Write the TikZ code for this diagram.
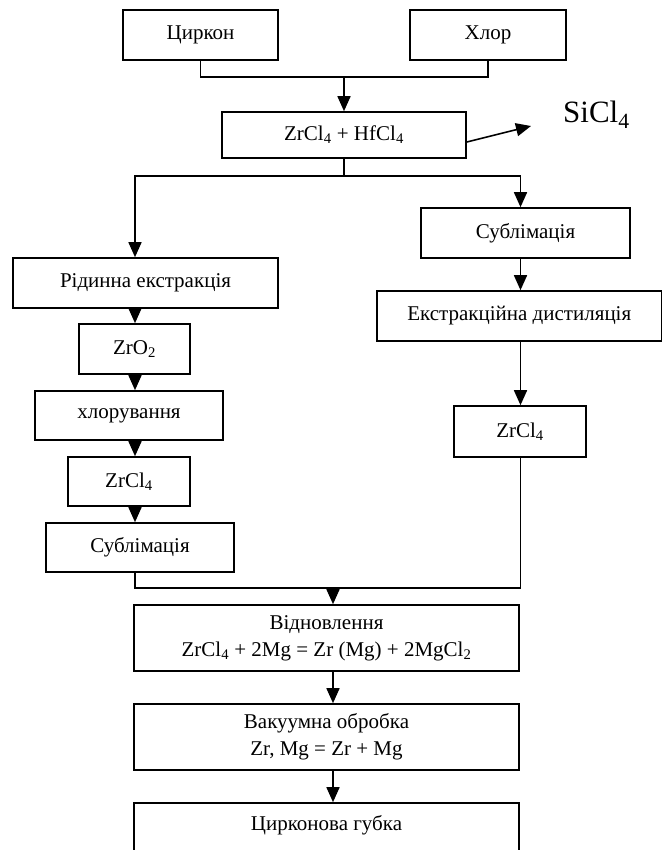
\documentclass[tikz,border=0pt]{standalone}
\usepackage{fontspec}
\setmainfont{Liberation Serif}
\usetikzlibrary{arrows.meta,calc}
\tikzset{
  box/.style={draw,line width=1.6pt,inner sep=0pt,align=center,font=\fontsize{21}{27}\selectfont},
  arr/.style={line width=1.6pt,-{Triangle[length=15pt,width=13pt]}},
  ln/.style={line width=1.6pt}
}
\newcommand{\bx}[6]{% name, x1, y1, x2, y2, text
  \node[box,minimum width={(#4-#2)*1pt},minimum height={(#5-#3)*1pt}] (#1) at ({(#2+#4)/2},{(#3+#5)/2}) {#6};}
\begin{document}
\begin{tikzpicture}[x=1pt,y=-1pt]
\useasboundingbox (0,0) rectangle (663,850);
\clip (0,0) rectangle (663,850);
\bx{tsirkon}{123}{10}{278}{60}{Циркон}
\bx{khlor}{410}{10}{566}{60}{Хлор}
\bx{zrhf}{222}{112}{466}{158}{ZrCl\textsubscript{4} + HfCl\textsubscript{4}}
\bx{sub1}{421}{208}{630}{258}{Сублімація}
\bx{extdist}{377}{291}{661.5}{341}{Екстракційна дистиляція}
\bx{zrclr}{454}{406}{586}{457}{ZrCl\textsubscript{4}}
\bx{ridinna}{13}{258}{278}{308}{Рідинна екстракція}
\bx{zro}{79}{324}{190}{374}{ZrO\textsubscript{2}}
\bx{khlorr}{35}{391}{223}{440}{хлорування}
\bx{zrcll}{68}{457}{190}{506}{ZrCl\textsubscript{4}}
\bx{sub2}{46}{523}{234}{572}{Сублімація}
\bx{vidn}{134}{605}{519}{671}{Відновлення\\ZrCl\textsubscript{4} + 2Mg = Zr (Mg) + 2MgCl\textsubscript{2}}
\bx{vak}{134}{704}{519}{770}{Вакуумна обробка\\Zr, Mg = Zr + Mg}
\bx{gubka}{134}{803}{519}{869}{Цирконова губка\\\mbox{}}
\node[font=\fontsize{31}{36}\selectfont,anchor=base west,inner sep=0pt] (sicl) at (563,123) {SiCl\textsubscript{4}};
\coordinate (lx) at (135,0);
\coordinate (rx) at (520.5,0);
\coordinate (cx) at (333,0);
\coordinate (j1) at (344,77);
\coordinate (j2) at (344,176);
\coordinate (j3) at (333,588);
\coordinate (sitip) at (531,126);
% top merge
\draw[ln] (tsirkon.south) |- (j1) -| (khlor.south);
\draw[arr] (j1) -- (zrhf.north -| j1);
\draw[arr] (zrhf.east |- 0,142) -- (sitip);
% split
\draw[ln] (zrhf.south -| j2) -- (j2);
\draw[arr] (j2) -| (ridinna.north -| lx);
\draw[arr] (j2) -| (sub1.north -| rx);
% left chain
\draw[arr] (ridinna.south -| lx) -- (zro.north -| lx);
\draw[arr] (zro.south -| lx) -- (khlorr.north -| lx);
\draw[arr] (khlorr.south -| lx) -- (zrcll.north -| lx);
\draw[arr] (zrcll.south -| lx) -- (sub2.north -| lx);
% right chain
\draw[arr] (sub1.south -| rx) -- (extdist.north -| rx);
\draw[arr] (extdist.south -| rx) -- (zrclr.north -| rx);
% bottom merge
\draw[ln] (sub2.south -| lx) |- (j3) -| (zrclr.south -| rx);
\draw[arr] (j3) -- (vidn.north -| cx);
\draw[arr] (vidn.south -| cx) -- (vak.north -| cx);
\draw[arr] (vak.south -| cx) -- (gubka.north -| cx);
\end{tikzpicture}
\end{document}
